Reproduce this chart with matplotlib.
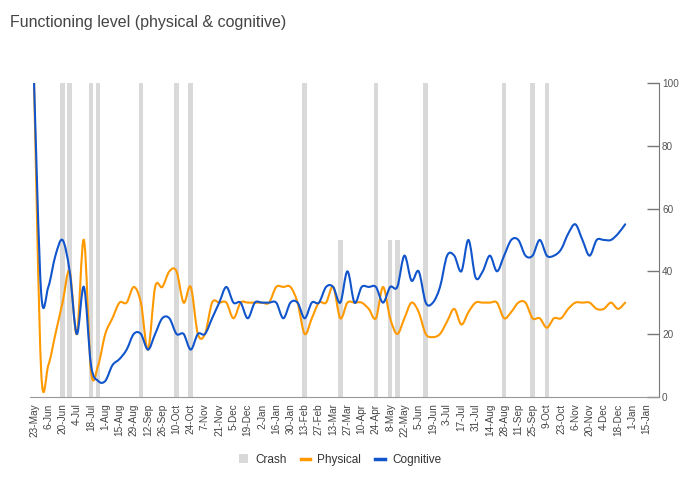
import matplotlib
matplotlib.use("Agg")
import matplotlib.pyplot as plt
from matplotlib.path import Path
from matplotlib.patches import PathPatch, Patch
from matplotlib.lines import Line2D

plt.rcParams["font.family"] = ["Liberation Sans", "DejaVu Sans"]

# days since 23-May-2018, one reading per week
days = [0, 7, 14, 21, 28, 35, 42, 49, 56, 63, 70, 77, 84, 91, 98, 105, 112, 119,
        126, 133, 140, 147, 154, 161, 168, 175, 182, 189, 196, 203, 210, 217,
        224, 231, 238, 245, 252, 259, 266, 273, 280, 287, 294, 301, 308, 315,
        322, 329, 336, 343, 350, 357, 364, 371, 378, 385, 392, 399, 406, 413,
        420, 427, 434, 441, 448, 455, 462, 469, 476, 483, 490, 497, 504, 511,
        518, 525, 532, 539, 546, 553, 560, 567, 574, 581]

physical = [100, 8, 10, 20, 30, 40, 20, 50, 8, 10, 20, 25, 30, 30, 35, 30, 15, 35,
            35, 40, 40, 30, 35, 20, 20, 30, 30, 30, 25, 30, 30, 30,
            30, 30, 35, 35, 35, 30, 20, 25, 30, 30, 35, 25, 30, 30,
            30, 28, 25, 35, 25, 20, 25, 30, 27, 20, 19, 20, 24, 28,
            23, 27, 30, 30, 30, 30, 25, 27, 30, 30, 25, 25, 22, 25,
            25, 28, 30, 30, 30, 28, 28, 30, 28, 30]

cognitive = [100, 33, 35, 45, 50, 40, 20, 35, 10, 5, 5, 10, 12, 15, 20, 20, 15, 20,
             25, 25, 20, 20, 15, 20, 20, 25, 30, 35, 30, 30, 25, 30,
             30, 30, 30, 25, 30, 30, 25, 30, 30, 35, 35, 30, 40, 30,
             35, 35, 35, 30, 35, 35, 45, 37, 40, 30, 30, 35, 45, 45,
             40, 50, 38, 40, 45, 40, 45, 50, 50, 45, 45, 50, 45, 45,
             47, 52, 55, 50, 45, 50, 50, 50, 52, 55]

crash_days = [28, 35, 56, 63, 105, 140, 154, 266, 301, 336, 350, 357, 385, 462, 490, 504]
crash_vals = [100, 100, 100, 100, 100, 100, 100, 100, 50, 100, 50, 50, 100, 100, 100, 100]

tick_labels = ["23-May", "6-Jun", "20-Jun", "4-Jul", "18-Jul", "1-Aug", "15-Aug",
               "29-Aug", "12-Sep", "26-Sep", "10-Oct", "24-Oct", "7-Nov", "21-Nov",
               "5-Dec", "19-Dec", "2-Jan", "16-Jan", "30-Jan", "13-Feb", "27-Feb",
               "13-Mar", "27-Mar", "10-Apr", "24-Apr", "8-May", "22-May", "5-Jun",
               "19-Jun", "3-Jul", "17-Jul", "31-Jul", "14-Aug", "28-Aug", "11-Sep",
               "25-Sep", "9-Oct", "23-Oct", "6-Nov", "20-Nov", "4-Dec", "18-Dec",
               "1-Jan", "15-Jan"]

C_CRASH = "#d9d9d9"
C_PHYS = "#ff9900"
C_COG = "#1155cc"


def smooth_path(xs, ys, k=1 / 6):
    # catmull-rom style bezier through the points
    verts = [(xs[0], ys[0])]
    codes = [Path.MOVETO]
    n = len(xs)
    for i in range(n - 1):
        x0, y0 = xs[max(i - 1, 0)], ys[max(i - 1, 0)]
        x1, y1 = xs[i], ys[i]
        x2, y2 = xs[i + 1], ys[i + 1]
        x3, y3 = xs[min(i + 2, n - 1)], ys[min(i + 2, n - 1)]
        verts.append((x1 + (x2 - x0) * k, y1 + (y2 - y0) * k))
        verts.append((x2 - (x3 - x1) * k, y2 - (y3 - y1) * k))
        verts.append((x2, y2))
        codes += [Path.CURVE4] * 3
    return Path(verts, codes)


fig = plt.figure(figsize=(6.8, 4.93), dpi=100)
ax = fig.add_axes([0.0441, 0.1955, 0.9254, 0.6355])

ax.bar(crash_days, crash_vals, width=4.5, color=C_CRASH, zorder=1)
ax.add_patch(PathPatch(smooth_path(days, physical), fill=False, edgecolor=C_PHYS,
                       lw=1.5, zorder=3, capstyle="round", joinstyle="round"))
ax.add_patch(PathPatch(smooth_path(days, cognitive), fill=False, edgecolor=C_COG,
                       lw=1.5, zorder=4, capstyle="round", joinstyle="round"))

ax.set_xlim(-4, 614.5)
ax.set_ylim(0, 100)

ax.set_xticks(range(0, 14 * len(tick_labels), 14))
ax.set_xticklabels(tick_labels, rotation=90, fontsize=7.2, color="#444444")
ax.tick_params(axis="x", length=0, pad=5)

ax.yaxis.tick_right()
ax.set_yticks([0, 20, 40, 60, 80, 100])
ax.tick_params(axis="y", direction="in", length=9, width=1, color="#777777",
               labelsize=7.2, labelcolor="#555555", pad=2)

for s in ["top", "left"]:
    ax.spines[s].set_visible(False)
ax.spines["right"].set_color("#777777")
ax.spines["bottom"].set_color("#999999")

fig.text(0.015, 0.955, "Functioning level (physical & cognitive)", fontsize=11.5,
         color="#444444", va="center")

handles = [Patch(facecolor=C_CRASH, edgecolor="none"),
           Line2D([], [], color=C_PHYS, lw=2.5),
           Line2D([], [], color=C_COG, lw=2.5)]
fig.legend(handles, ["Crash", "Physical", "Cognitive"], loc="center",
           bbox_to_anchor=(0.5, 0.067), ncol=3, frameon=False, fontsize=8.5,
           handlelength=0.8, handleheight=0.8, columnspacing=1.2, handletextpad=0.6,
           labelcolor="#333333")

fig.savefig("out.png", dpi=100)
